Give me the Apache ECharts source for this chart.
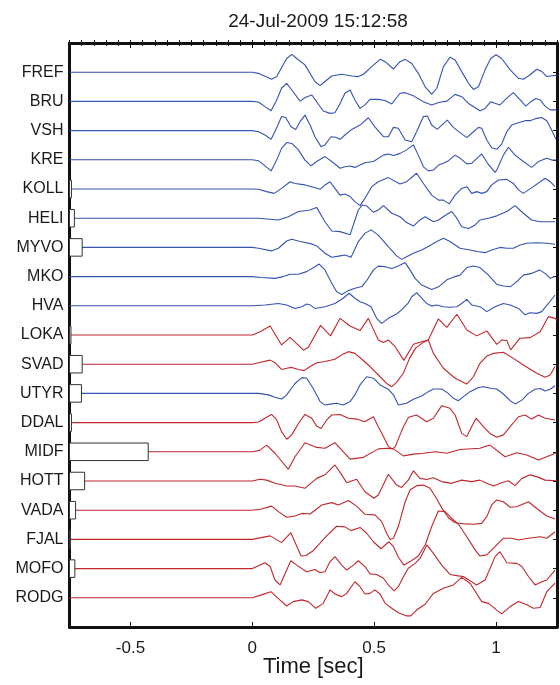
<!DOCTYPE html>
<html>
<head>
<meta charset="utf-8">
<script src="https://cdn.jsdelivr.net/npm/echarts@6/dist/echarts.min.js"></script>
<style>html,body{margin:0;padding:0;background:#fff}#c{width:560px;height:685px}</style>
</head>
<body>
<div id="c"></div>
<script>
// ---- DATA ----
const titleText = '24-Jul-2009 15:12:58';
const stations = ['FREF','BRU','VSH','KRE','KOLL','HELI','MYVO','MKO','HVA','LOKA','SVAD','UTYR','DDAL','MIDF','HOTT','VADA','FJAL','MOFO','RODG'];
const component = ['b','b','b','b','b','b','b','b','b','r','r','b','r','r','r','r','r','r','r'];
// width of the amplitude box drawn at the left edge (in seconds of the time axis)
const boxWidth = [0,0,0,0,0.008,0.02,0.052,0,0,0.006,0.052,0.049,0.008,0.323,0.062,0.025,0.004,0.022,0];
const xTickValues = [-0.5, 0, 0.5, 1];
const tStart = -0.75, tEnd = 1.25;

// traces: [time (s), normalized amplitude (trace spacing units, up positive)]
const FREF = [[0.025,-0.04],[0.079,-0.24],[0.100,-0.15],[0.141,0.47],[0.162,0.61],[0.182,0.47],[0.216,0.25],[0.257,-0.32],[0.278,-0.46],[0.298,-0.32],[0.326,-0.13],[0.367,-0.07],[0.408,-0.13],[0.435,-0.15],[0.456,-0.07],[0.490,0.19],[0.524,0.44],[0.545,0.36],[0.579,0.11],[0.606,0.36],[0.627,0.44],[0.654,0.30],[0.681,-0.04],[0.709,-0.50],[0.736,-0.75],[0.757,-0.55],[0.784,0.19],[0.811,0.51],[0.832,0.42],[0.859,0.02],[0.887,-0.38],[0.907,-0.59],[0.928,-0.50],[0.955,0.08],[0.978,0.47],[1.000,0.60],[1.023,0.47],[1.058,0.08],[1.092,-0.21],[1.112,-0.24],[1.133,-0.13],[1.167,0.10],[1.188,0.02],[1.208,-0.15],[1.229,-0.12],[1.249,-0.11]];
const BRU = [[0.025,-0.02],[0.052,-0.18],[0.077,-0.32],[0.100,0.05],[0.120,0.45],[0.141,0.62],[0.162,0.39],[0.196,0.01],[0.219,0.14],[0.244,0.22],[0.264,-0.01],[0.291,-0.33],[0.319,-0.41],[0.339,-0.39],[0.360,-0.07],[0.380,0.28],[0.401,0.39],[0.421,0.05],[0.442,-0.24],[0.462,-0.12],[0.483,0.07],[0.517,0.07],[0.544,0.03],[0.572,-0.09],[0.606,0.28],[0.627,0.30],[0.661,0.19],[0.702,-0.01],[0.736,-0.12],[0.764,-0.04],[0.798,0.01],[0.832,0.24],[0.859,0.16],[0.887,-0.07],[0.934,-0.32],[0.955,-0.24],[0.978,-0.01],[1.016,-0.12],[1.044,0.11],[1.071,0.30],[1.099,0.05],[1.122,-0.16],[1.143,-0.01],[1.163,0.10],[1.181,0.05],[1.201,-0.16],[1.222,-0.29],[1.249,-0.29]];
const VSH = [[0.025,-0.04],[0.052,-0.15],[0.077,-0.30],[0.096,0.02],[0.120,0.48],[0.137,0.45],[0.159,0.13],[0.178,0.04],[0.196,0.31],[0.216,0.53],[0.237,0.19],[0.257,-0.21],[0.282,-0.55],[0.298,-0.49],[0.323,-0.21],[0.342,-0.23],[0.360,-0.30],[0.380,-0.15],[0.408,0.04],[0.442,0.19],[0.476,0.44],[0.503,0.13],[0.538,-0.21],[0.558,-0.21],[0.579,0.11],[0.599,0.08],[0.627,-0.32],[0.654,-0.38],[0.674,-0.04],[0.702,0.48],[0.718,0.50],[0.736,0.19],[0.759,0.04],[0.777,0.19],[0.800,0.36],[0.825,0.11],[0.852,-0.07],[0.880,-0.24],[0.907,-0.04],[0.928,0.11],[0.941,0.08],[0.962,-0.32],[0.982,-0.59],[1.003,-0.64],[1.023,-0.46],[1.044,-0.04],[1.064,0.19],[1.092,0.27],[1.119,0.34],[1.139,0.34],[1.167,0.42],[1.187,0.45],[1.208,0.34],[1.228,0.02],[1.246,-0.30]];
const KRE = [[0.025,-0.03],[0.052,-0.21],[0.077,-0.38],[0.100,-0.01],[0.120,0.39],[0.141,0.59],[0.162,0.56],[0.189,0.34],[0.216,-0.01],[0.241,-0.21],[0.264,-0.06],[0.298,0.11],[0.326,-0.06],[0.360,-0.29],[0.380,-0.24],[0.401,-0.21],[0.421,-0.26],[0.442,-0.18],[0.462,-0.10],[0.497,-0.06],[0.538,0.16],[0.558,0.20],[0.579,0.15],[0.606,0.22],[0.633,0.34],[0.661,0.51],[0.681,0.16],[0.702,-0.24],[0.722,-0.38],[0.743,-0.35],[0.764,-0.18],[0.784,-0.12],[0.805,-0.03],[0.832,0.16],[0.853,0.05],[0.880,-0.14],[0.900,-0.12],[0.941,0.20],[0.965,-0.12],[0.996,-0.43],[1.003,-0.35],[1.030,0.16],[1.051,0.43],[1.078,0.16],[1.112,-0.06],[1.146,-0.26],[1.174,-0.06],[1.208,0.05],[1.229,-0.01],[1.246,-0.01]];
const KOLL = [[0.025,-0.01],[0.059,-0.09],[0.090,-0.15],[0.120,0.02],[0.155,0.25],[0.175,0.19],[0.216,0.14],[0.244,0.08],[0.278,-0.01],[0.298,0.14],[0.319,0.25],[0.339,0.02],[0.360,-0.21],[0.380,-0.17],[0.401,-0.26],[0.421,-0.43],[0.442,-0.57],[0.462,-0.32],[0.490,0.08],[0.517,0.25],[0.558,0.39],[0.606,0.17],[0.633,0.25],[0.674,0.54],[0.702,0.19],[0.736,-0.21],[0.764,-0.38],[0.784,-0.38],[0.808,-0.51],[0.832,-0.21],[0.859,0.02],[0.880,0.08],[0.900,-0.15],[0.921,-0.09],[0.941,-0.15],[0.962,-0.09],[0.982,0.14],[1.010,0.31],[1.044,0.33],[1.071,0.19],[1.092,-0.03],[1.112,-0.15],[1.153,0.08],[1.201,0.37],[1.222,0.25],[1.242,0.08]];
const HELI = [[0.025,0.00],[0.107,-0.06],[0.148,0.05],[0.189,0.23],[0.237,0.28],[0.264,0.37],[0.298,-0.12],[0.326,-0.44],[0.360,-0.46],[0.401,-0.57],[0.435,0.28],[0.451,0.45],[0.469,0.42],[0.497,0.20],[0.517,0.28],[0.538,0.43],[0.572,0.17],[0.606,0.05],[0.633,-0.15],[0.661,-0.27],[0.688,-0.06],[0.709,0.05],[0.743,-0.12],[0.764,-0.06],[0.791,0.09],[0.818,0.23],[0.839,0.00],[0.859,-0.29],[0.887,-0.35],[0.914,-0.23],[0.934,-0.06],[0.969,0.00],[1.003,0.08],[1.044,0.23],[1.078,0.43],[1.112,0.17],[1.146,-0.06],[1.181,-0.12],[1.242,-0.12]];
const MYVO = [[0.025,-0.03],[0.079,-0.12],[0.107,-0.03],[0.141,0.22],[0.162,0.28],[0.196,0.20],[0.244,0.12],[0.264,0.05],[0.298,-0.20],[0.326,-0.34],[0.360,-0.29],[0.380,-0.26],[0.405,-0.34],[0.435,0.20],[0.462,0.48],[0.487,0.60],[0.517,0.42],[0.558,0.03],[0.592,-0.29],[0.613,-0.41],[0.633,-0.32],[0.661,-0.20],[0.695,-0.09],[0.722,0.03],[0.757,0.20],[0.784,0.31],[0.811,0.20],[0.852,-0.03],[0.893,-0.09],[0.928,-0.15],[0.955,-0.18],[0.982,-0.09],[1.016,0.00],[1.044,-0.03],[1.071,-0.03],[1.099,0.08],[1.126,0.14],[1.167,0.16],[1.208,0.14],[1.242,0.11]];
const MKO = [[0.038,-0.03],[0.093,-0.06],[0.127,0.00],[0.155,0.08],[0.189,0.08],[0.223,0.17],[0.257,0.34],[0.274,0.43],[0.298,0.23],[0.326,-0.23],[0.346,-0.52],[0.367,-0.61],[0.394,-0.48],[0.421,-0.40],[0.449,-0.34],[0.469,-0.14],[0.497,0.23],[0.517,0.36],[0.544,0.34],[0.572,0.28],[0.599,0.36],[0.627,0.48],[0.647,0.23],[0.668,-0.06],[0.695,-0.29],[0.736,-0.44],[0.764,-0.35],[0.798,-0.11],[0.832,0.00],[0.852,0.05],[0.880,0.31],[0.907,0.36],[0.934,0.31],[0.969,0.05],[1.003,-0.27],[1.030,-0.32],[1.058,-0.35],[1.085,-0.17],[1.112,0.05],[1.146,0.11],[1.178,0.23],[1.201,0.11],[1.222,-0.06],[1.242,0.00]];
const HVA = [[0.052,0.03],[0.107,0.08],[0.141,0.03],[0.175,-0.09],[0.203,-0.03],[0.223,0.06],[0.237,0.03],[0.257,-0.09],[0.298,-0.03],[0.339,0.08],[0.373,0.26],[0.397,0.43],[0.421,0.26],[0.442,0.14],[0.462,0.08],[0.487,-0.03],[0.510,-0.43],[0.531,-0.60],[0.558,-0.43],[0.592,-0.28],[0.615,-0.12],[0.640,0.10],[0.654,0.31],[0.674,0.45],[0.695,0.26],[0.715,0.08],[0.736,-0.01],[0.757,0.03],[0.784,-0.03],[0.811,-0.05],[0.839,-0.03],[0.859,0.08],[0.880,0.22],[0.900,0.03],[0.934,-0.03],[0.962,-0.20],[0.996,-0.03],[1.030,0.08],[1.058,0.03],[1.092,-0.09],[1.119,-0.31],[1.139,-0.24],[1.167,-0.26],[1.187,-0.20],[1.215,0.08],[1.242,0.37]];
const LOKA = [[0.032,0.11],[0.073,0.31],[0.120,-0.34],[0.155,-0.08],[0.210,-0.52],[0.230,-0.42],[0.280,0.33],[0.321,-0.03],[0.360,0.57],[0.401,0.31],[0.442,0.15],[0.476,0.57],[0.517,-0.17],[0.538,-0.26],[0.558,-0.17],[0.586,-0.40],[0.622,-0.87],[0.661,-0.32],[0.685,-0.26],[0.722,-0.17],[0.763,0.55],[0.798,0.26],[0.839,0.71],[0.880,0.17],[0.921,-0.03],[0.962,0.14],[1.003,-0.32],[1.023,-0.17],[1.044,-0.19],[1.060,-0.51],[1.098,-0.11],[1.140,-0.09],[1.181,0.11],[1.215,0.63],[1.242,0.57],[1.250,0.50]];
const SVAD = [[0.025,0.05],[0.073,0.14],[0.093,0.05],[0.120,-0.18],[0.141,-0.14],[0.162,-0.11],[0.189,-0.18],[0.213,-0.22],[0.237,-0.08],[0.264,0.05],[0.298,0.09],[0.339,0.17],[0.367,0.32],[0.394,0.43],[0.421,0.37],[0.449,0.17],[0.483,-0.08],[0.517,-0.37],[0.551,-0.66],[0.572,-0.77],[0.592,-0.62],[0.620,-0.30],[0.645,0.20],[0.670,0.55],[0.700,0.74],[0.722,0.83],[0.743,0.37],[0.784,-0.14],[0.832,-0.48],[0.880,-0.68],[0.907,-0.43],[0.934,0.03],[0.962,0.28],[0.989,0.37],[1.030,0.41],[1.071,0.20],[1.112,-0.03],[1.167,-0.31],[1.201,-0.45],[1.222,-0.37],[1.242,-0.08]];
const UTYR = [[0.025,0.00],[0.066,-0.05],[0.093,-0.13],[0.120,-0.19],[0.141,-0.05],[0.175,0.34],[0.203,0.54],[0.223,0.52],[0.250,0.17],[0.278,-0.28],[0.298,-0.40],[0.326,-0.36],[0.346,-0.34],[0.373,-0.40],[0.401,-0.28],[0.421,-0.05],[0.442,0.29],[0.469,0.57],[0.497,0.52],[0.524,0.29],[0.558,0.14],[0.579,-0.05],[0.599,-0.40],[0.633,-0.34],[0.661,-0.20],[0.695,-0.09],[0.722,0.06],[0.743,0.15],[0.777,0.15],[0.804,0.00],[0.825,-0.17],[0.845,-0.25],[0.866,-0.11],[0.893,0.06],[0.928,0.20],[0.948,0.23],[0.982,0.17],[1.003,0.15],[1.030,-0.02],[1.058,-0.25],[1.078,-0.36],[1.106,-0.23],[1.133,0.00],[1.160,0.14],[1.181,0.17],[1.201,0.08],[1.222,0.14],[1.242,0.26]];
const DDAL = [[0.025,0.02],[0.059,0.18],[0.079,0.28],[0.100,0.09],[0.120,-0.31],[0.141,-0.57],[0.162,-0.42],[0.189,-0.03],[0.216,0.28],[0.244,0.15],[0.264,-0.12],[0.282,-0.20],[0.305,0.09],[0.326,0.26],[0.360,0.28],[0.394,0.15],[0.428,0.12],[0.460,0.03],[0.497,0.20],[0.517,-0.14],[0.538,-0.48],[0.558,-0.82],[0.575,-0.90],[0.586,-0.83],[0.606,-0.42],[0.620,-0.14],[0.641,0.18],[0.674,0.26],[0.715,0.03],[0.743,0.15],[0.777,0.58],[0.811,0.49],[0.832,0.26],[0.859,-0.37],[0.880,-0.48],[0.893,-0.25],[0.918,0.15],[0.948,-0.14],[0.975,-0.37],[1.003,-0.50],[1.030,-0.42],[1.058,-0.14],[1.092,0.20],[1.119,0.26],[1.146,0.12],[1.174,0.26],[1.201,0.15],[1.242,0.09]];
const MIDF = [[0.030,0.05],[0.059,0.23],[0.093,-0.05],[0.148,-0.60],[0.175,-0.17],[0.216,0.31],[0.264,0.15],[0.298,0.12],[0.339,0.31],[0.401,-0.25],[0.456,-0.19],[0.517,0.10],[0.551,0.12],[0.579,0.10],[0.620,-0.14],[0.661,-0.08],[0.702,-0.05],[0.750,0.00],[0.798,-0.05],[0.852,0.08],[0.934,0.12],[0.975,0.23],[1.037,-0.17],[1.085,-0.03],[1.126,-0.11],[1.174,-0.28],[1.249,-0.03]];
const HOTT = [[0.032,0.06],[0.059,0.03],[0.093,-0.08],[0.141,-0.17],[0.175,-0.17],[0.216,-0.25],[0.264,0.09],[0.298,0.21],[0.339,0.55],[0.367,0.21],[0.387,-0.06],[0.401,-0.02],[0.428,0.06],[0.462,-0.37],[0.499,-0.59],[0.517,-0.48],[0.558,0.23],[0.592,-0.14],[0.613,-0.22],[0.640,0.03],[0.661,0.35],[0.688,0.09],[0.715,0.05],[0.743,0.11],[0.777,-0.02],[0.818,-0.08],[0.859,0.03],[0.900,-0.02],[0.934,0.03],[0.962,-0.08],[0.989,-0.17],[1.023,-0.06],[1.051,0.01],[1.078,-0.16],[1.106,0.09],[1.140,0.21],[1.167,0.15],[1.201,0.03],[1.249,0.01]];
const VADA = [[0.038,0.04],[0.079,0.14],[0.107,-0.05],[0.141,-0.24],[0.175,-0.20],[0.203,-0.11],[0.237,-0.13],[0.285,0.18],[0.326,0.26],[0.353,0.18],[0.394,0.33],[0.428,0.14],[0.462,-0.14],[0.503,-0.16],[0.531,-0.39],[0.551,-0.79],[0.565,-1.00],[0.579,-0.96],[0.599,-0.56],[0.627,0.29],[0.647,0.69],[0.674,0.84],[0.702,0.86],[0.729,0.75],[0.756,0.40],[0.777,0.08],[0.804,-0.25],[0.832,-0.43],[0.873,-0.47],[0.907,-0.48],[0.941,-0.45],[0.962,-0.22],[0.982,0.18],[1.003,0.35],[1.030,0.29],[1.058,0.10],[1.085,0.12],[1.133,0.29],[1.167,0.06],[1.208,-0.20],[1.242,-0.30]];
const FJAL = [[0.073,0.12],[0.120,-0.11],[0.158,0.23],[0.200,-0.57],[0.220,-0.55],[0.248,-0.40],[0.278,-0.13],[0.305,0.12],[0.346,0.45],[0.380,0.43],[0.405,0.30],[0.442,0.41],[0.469,0.21],[0.497,-0.08],[0.528,-0.32],[0.560,-0.08],[0.579,-0.25],[0.600,-0.62],[0.622,-0.88],[0.647,-0.76],[0.681,-0.57],[0.709,-0.19],[0.736,0.44],[0.763,0.97],[0.791,0.95],[0.818,0.72],[0.846,0.52],[0.880,0.09],[0.914,-0.36],[0.934,-0.57],[0.962,-0.53],[0.996,-0.25],[1.030,0.04],[1.064,0.04],[1.092,-0.02],[1.133,0.04],[1.181,0.09],[1.208,0.04],[1.242,0.26]];
const MOFO = [[0.052,0.20],[0.073,0.07],[0.093,-0.39],[0.114,-0.56],[0.141,-0.05],[0.158,0.27],[0.182,0.12],[0.223,-0.11],[0.257,-0.03],[0.278,-0.14],[0.298,-0.11],[0.319,0.24],[0.339,0.41],[0.367,0.12],[0.387,-0.05],[0.415,0.12],[0.435,0.27],[0.462,0.07],[0.483,-0.18],[0.510,-0.20],[0.538,-0.33],[0.558,-0.56],[0.582,-0.76],[0.599,-0.62],[0.620,-0.28],[0.640,0.01],[0.668,0.18],[0.688,0.35],[0.716,0.81],[0.743,0.52],[0.777,0.12],[0.811,-0.20],[0.845,-0.25],[0.865,-0.27],[0.885,-0.37],[0.920,-0.56],[0.955,-0.39],[0.996,0.41],[1.016,0.58],[1.044,0.20],[1.085,0.18],[1.106,0.07],[1.133,-0.27],[1.160,-0.56],[1.188,-0.45],[1.208,-0.39],[1.242,-0.05]];
const RODG = [[0.038,0.10],[0.076,0.21],[0.114,-0.08],[0.141,-0.28],[0.168,-0.13],[0.203,-0.07],[0.230,-0.13],[0.260,-0.36],[0.291,-0.19],[0.319,0.27],[0.339,0.13],[0.367,0.04],[0.387,0.15],[0.421,0.55],[0.442,0.38],[0.462,0.13],[0.483,0.15],[0.503,0.27],[0.524,0.13],[0.545,-0.19],[0.572,-0.36],[0.599,-0.51],[0.633,-0.62],[0.650,-0.62],[0.674,-0.42],[0.709,-0.22],[0.743,0.15],[0.784,0.33],[0.825,0.44],[0.859,0.70],[0.893,0.50],[0.920,0.15],[0.941,-0.13],[0.969,-0.19],[1.003,-0.42],[1.023,-0.55],[1.058,-0.30],[1.092,-0.13],[1.126,-0.24],[1.153,-0.36],[1.181,-0.33],[1.208,0.21],[1.242,0.50]];

const traces = [FREF,BRU,VSH,KRE,KOLL,HELI,MYVO,MKO,HVA,LOKA,SVAD,UTYR,DDAL,MIDF,HOTT,VADA,FJAL,MOFO,RODG];

// ---- STYLE ----
const FONT = "'Liberation Sans', Arial, Helvetica, sans-serif";
const TXT = '#1a1a1a';
const AX = '#111';
const COLORS = { b: '#3553b2', r: '#c0272d' };

const chart = echarts.init(document.getElementById('c'), null, { renderer: 'canvas' });

const lineSeries = traces.map((arr, k) => {
  const base = k + 1;
  const data = [[tStart, base], [0, base]].concat(arr.map(p => [p[0], base - p[1]]));
  return {
    type: 'line', name: stations[k], xAxisIndex: 0, yAxisIndex: 0,
    data: data, showSymbol: false, symbol: 'none', smooth: false,
    lineStyle: { color: COLORS[component[k]], width: 1.1 },
    z: 2, silent: true, animation: false
  };
});

const boxData = [];
boxWidth.forEach((w, k) => { if (w > 0) boxData.push([k + 1, w]); });

const boxSeries = {
  type: 'custom', xAxisIndex: 0, yAxisIndex: 0, z: 5, silent: true,
  encode: { x: 1, y: 0 },
  data: boxData,
  renderItem: function (params, api) {
    const i = api.value(0), w = api.value(1);
    const p0 = api.coord([tStart, i - 0.3]);
    const p1 = api.coord([tStart + w, i + 0.3]);
    return {
      type: 'rect',
      shape: { x: p0[0], y: p0[1], width: p1[0] - p0[0], height: p1[1] - p0[1] },
      style: { fill: '#fff', stroke: '#333', lineWidth: 1 }
    };
  }
};

const yTicks = stations.map((s, k) => k + 1);

const baseX = { type: 'value', min: tStart, max: tEnd, splitLine: { show: false } };

const option = {
  animation: false,
  backgroundColor: '#fff',
  title: {
    text: titleText, left: 313, top: 7, textAlign: 'center',
    textStyle: { fontSize: 19, fontWeight: 'normal', color: TXT, fontFamily: FONT }
  },
  grid: { left: 69.5, right: 3, top: 43, bottom: 58, containLabel: false, outerBoundsMode: 'none' },
  xAxis: [
    Object.assign({}, baseX, {
      position: 'bottom',
      axisLine: { show: true, onZero: false, lineStyle: { color: AX, width: 3 } },
      axisTick: { show: true, inside: true, length: 5, customValues: xTickValues, lineStyle: { color: AX, width: 1 } },
      axisLabel: { show: true, customValues: xTickValues, margin: 13, fontSize: 17, color: TXT, fontFamily: FONT,
        formatter: v => String(v) },
      name: 'Time [sec]', nameLocation: 'middle', nameGap: 29, nameMoveOverlap: false,
      nameTextStyle: { fontSize: 22, color: TXT, fontFamily: FONT }
    }),
    Object.assign({}, baseX, {
      position: 'bottom', interval: 0.05,
      axisLine: { show: false },
      axisTick: { show: true, inside: true, length: 3, lineStyle: { color: AX, width: 1 } },
      axisLabel: { show: false }
    }),
    Object.assign({}, baseX, {
      position: 'top',
      axisLine: { show: true, onZero: false, lineStyle: { color: AX, width: 3 } },
      axisTick: { show: true, inside: true, length: 5, customValues: xTickValues, lineStyle: { color: AX, width: 1 } },
      axisLabel: { show: false }
    }),
    Object.assign({}, baseX, {
      position: 'top', interval: 0.05,
      axisLine: { show: false },
      axisTick: { show: true, inside: true, length: 3, lineStyle: { color: AX, width: 1 } },
      axisLabel: { show: false }
    })
  ],
  yAxis: [
    {
      type: 'value', position: 'left', inverse: true, min: 0, max: 20, interval: 1,
      axisLine: { show: true, onZero: false, lineStyle: { color: AX, width: 3 } },
      axisTick: { show: false },
      splitLine: { show: false },
      axisLabel: { show: true, margin: 6, fontSize: 16, color: TXT, fontFamily: FONT,
        formatter: v => (v >= 1 && v <= stations.length) ? stations[v - 1] : '' }
    },
    {
      type: 'value', position: 'right', inverse: true, min: 0, max: 20,
      axisLine: { show: true, onZero: false, lineStyle: { color: AX, width: 3 } },
      axisTick: { show: true, inside: true, length: 4, customValues: yTicks, lineStyle: { color: AX, width: 1 } },
      splitLine: { show: false },
      axisLabel: { show: false }
    }
  ],
  series: lineSeries.concat([boxSeries])
};

chart.setOption(option);
</script>
</body>
</html>
